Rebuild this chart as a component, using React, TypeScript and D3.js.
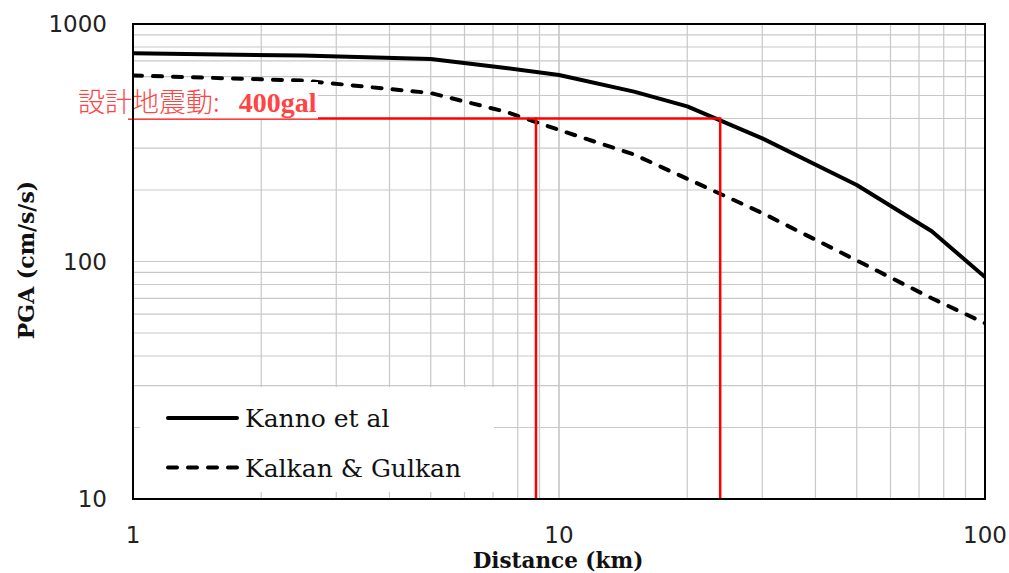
import React from "react";
import * as d3 from "d3";

const distances = [1, 2.5, 5, 7.5, 10, 15, 20, 30, 50, 75, 100];
const kannoPGA = [753, 736, 712, 653, 610, 519, 450, 330, 210, 134, 86];
const kalkanPGA = [607, 578, 512, 427, 358, 282, 223, 160, 101, 70, 55];
const seriesNames = ["Kanno et al", "Kalkan & Gulkan"];
const designPGA = 400;
const designDistances = [8.83, 23.9];
const xTicks = [1, 10, 100];
const yTicks = [10, 100, 1000];

const W = 1009;
const H = 573;
const L = 133, R = 985, T = 24, B = 499;

export default function App() {
  const x = d3.scaleLog().domain([1, 100]).range([L, R]);
  const y = d3.scaleLog().domain([10, 1000]).range([B, T]);

  const xGrid: number[] = [];
  for (const dec of [1, 10]) for (let k = 1; k <= 10; k++) xGrid.push(dec * k);
  const yGrid: number[] = [];
  for (const dec of [10, 100]) for (let k = 1; k <= 10; k++) yGrid.push(dec * k);

  const line = d3
    .line<[number, number]>()
    .x((d) => x(d[0]))
    .y((d) => y(d[1]));
  const kannoPath = line(distances.map((d, i) => [d, kannoPGA[i]]) as [number, number][]) || "";
  const kalkanPath = line(distances.map((d, i) => [d, kalkanPGA[i]]) as [number, number][]) || "";

  const yDesign = y(designPGA);
  const red = "#ff0000";

  return (
    <svg
      width={W}
      height={H}
      style={{ position: "absolute", left: 0, top: 0, background: "#fff" }}
    >
      <rect x={0} y={0} width={W} height={H} fill="#fff" />
      <defs>
        <clipPath id="plotClip">
          <rect x={L} y={T} width={R - L} height={B - T} />
        </clipPath>
      </defs>
      {/* grid */}
      <g stroke="#c8c8c8" strokeWidth={1.2}>
        {xGrid.map((v) => (
          <line key={"x" + v} x1={x(v)} x2={x(v)} y1={T} y2={B} />
        ))}
        {yGrid.map((v) => (
          <line key={"y" + v} x1={L} x2={R} y1={y(v)} y2={y(v)} />
        ))}
      </g>

      {/* curves */}
      <g clipPath="url(#plotClip)">
        <path d={kannoPath} fill="none" stroke="#000" strokeWidth={4} strokeLinejoin="round" />
        <path
          d={kalkanPath}
          fill="none"
          stroke="#000"
          strokeWidth={4}
          strokeDasharray="9,11"
          strokeLinecap="round"
        />
      </g>

      {/* design lines */}
      <line x1={128} x2={x(designDistances[1])} y1={yDesign} y2={yDesign} stroke={red} strokeWidth={2.5} />
      {designDistances.map((d) => (
        <line key={d} x1={x(d)} x2={x(d)} y1={yDesign - 1.2} y2={B} stroke={red} strokeWidth={2.5} />
      ))}

      {/* label box */}
      <rect x={78} y={82} width={240} height={yDesign - 82} fill="#fff" />
      <text x={78} y={111.5} fill="#ff4444">
        <tspan
          fontSize={27}
          fontWeight={300}
          style={{ fontFamily: "'Noto Sans CJK JP', sans-serif" }}
        >
          設計地震動:
        </tspan>
        <tspan
          fontSize={28}
          fontWeight="bold"
          dx={19}
          style={{ fontFamily: "'Liberation Serif', serif" }}
        >
          {designPGA}gal
        </tspan>
      </text>

      {/* legend */}
      <rect x={140} y={387} width={354} height={105} fill="#fff" />
      <line x1={168} x2={237} y1={418} y2={418} stroke="#000" strokeWidth={4} strokeLinecap="round" />
      <line
        x1={168}
        x2={237}
        y1={467.5}
        y2={467.5}
        stroke="#000"
        strokeWidth={4}
        strokeDasharray="9,11"
        strokeLinecap="round"
      />
      <g style={{ fontFamily: "'DejaVu Serif', serif" }} fontSize={25} fill="#111">
        <text x={245} y={427}>{seriesNames[0]}</text>
        <text x={245} y={476.5}>{seriesNames[1]}</text>
      </g>

      {/* frame */}
      <rect x={L} y={T} width={R - L} height={B - T} fill="none" stroke="#000" strokeWidth={2} />

      {/* tick labels */}
      <g style={{ fontFamily: "'DejaVu Sans', sans-serif" }} fontSize={23} fill="#222">
        {yTicks.map((v) => (
          <text key={v} x={107} y={y(v)} textAnchor="end" dominantBaseline="central">
            {v}
          </text>
        ))}
        {xTicks.map((v) => (
          <text key={v} x={x(v)} y={535} textAnchor="middle" dominantBaseline="central">
            {v}
          </text>
        ))}
      </g>

      {/* axis titles */}
      <text
        x={558}
        y={567.5}
        textAnchor="middle"
        fontWeight="bold"
        fontSize={21.5}
        fill="#111"
        style={{ fontFamily: "'DejaVu Serif', serif" }}
      >
        Distance (km)
      </text>
      <text
        transform={`translate(34,260) rotate(-90)`}
        textAnchor="middle"
        fontWeight="bold"
        fontSize={22}
        fill="#111"
        style={{ fontFamily: "'DejaVu Serif', serif" }}
      >
        PGA (cm/s/s)
      </text>
    </svg>
  );
}
